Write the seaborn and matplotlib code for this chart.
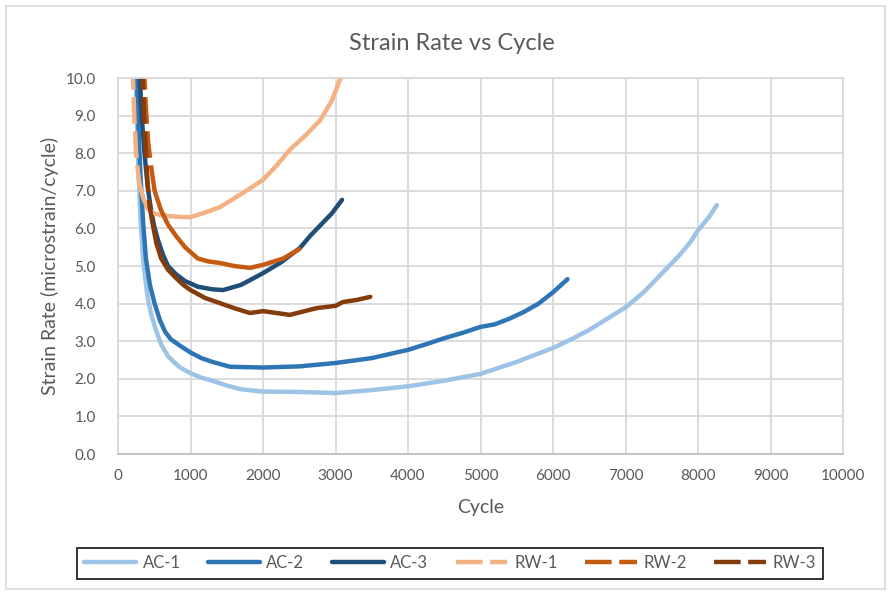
import matplotlib
matplotlib.use("Agg")
import matplotlib.pyplot as plt
from matplotlib.lines import Line2D
from matplotlib.patches import Rectangle
import pandas as pd
import seaborn as sns

# ---- measured strain rate (microstrain/cycle) against load cycle ----
ac1_cycle = [240, 260, 285, 310, 345, 380, 415, 460, 505, 550, 600, 690, 770, 855, 1000,
             1150, 1300, 1500, 1700, 2000, 2500, 3000, 3500, 4000, 4500, 5000, 5500,
             6000, 6250, 6500, 6750, 7000, 7250, 7450, 7600, 7750, 7900, 8000, 8150, 8260]
ac1_rate = [10.4, 9.0, 7.4, 6.3, 5.2, 4.6, 4.1, 3.7, 3.4, 3.15, 2.9, 2.6, 2.45, 2.3, 2.15,
            2.03, 1.95, 1.82, 1.72, 1.66, 1.65, 1.62, 1.70, 1.80, 1.95, 2.13, 2.45,
            2.82, 3.05, 3.30, 3.60, 3.90, 4.30, 4.70, 5.00, 5.30, 5.65, 5.95, 6.30, 6.62]

ac2_cycle = [255, 280, 310, 345, 385, 440, 505, 580, 650, 730, 855, 1000, 1150, 1300, 1545,
             2000, 2500, 3000, 3500, 4000, 4250, 4500, 4750, 5000, 5200, 5400, 5600,
             5800, 6000, 6200]
ac2_rate = [10.4, 8.8, 7.4, 6.2, 5.2, 4.5, 4.0, 3.55, 3.25, 3.05, 2.88, 2.7, 2.55, 2.45, 2.32,
            2.30, 2.33, 2.42, 2.55, 2.77, 2.92, 3.08, 3.22, 3.38, 3.45, 3.60, 3.78,
            4.00, 4.30, 4.65]

ac3_cycle = [290, 330, 370, 410, 455, 500, 550, 620, 690, 800, 925, 1100, 1300, 1450, 1700,
             2000, 2250, 2510, 2650, 2800, 2950, 3090]
ac3_rate = [10.4, 8.9, 7.9, 7.1, 6.5, 6.05, 5.7, 5.3, 5.0, 4.78, 4.6, 4.45, 4.38, 4.36, 4.5,
            4.81, 5.1, 5.48, 5.8, 6.1, 6.4, 6.76]

rw1_cycle = [200, 225, 250, 275, 300, 350, 415, 500, 595, 750, 925, 1000, 1200, 1410, 1720,
             2000, 2200, 2370, 2600, 2790, 2950, 3060, 3100]
rw1_rate = [10.4, 9.0, 8.0, 7.5, 7.15, 6.8, 6.5, 6.4, 6.35, 6.32, 6.3, 6.3, 6.42, 6.57, 6.94,
            7.29, 7.7, 8.09, 8.5, 8.88, 9.4, 9.95, 10.1]

rw2_cycle = [355, 385, 415, 460, 505, 590, 690, 800, 925, 1100, 1250, 1410, 1600, 1820, 2000,
             2280, 2500]
rw2_rate = [10.4, 9.2, 8.3, 7.6, 7.0, 6.5, 6.1, 5.8, 5.5, 5.2, 5.12, 5.08, 5.0, 4.95, 5.03,
            5.2, 5.45]

rw3_cycle = [330, 355, 380, 405, 435, 480, 530, 595, 690, 790, 900, 1000, 1200, 1410, 1600,
             1820, 2000, 2370, 2740, 3000, 3100, 3300, 3480]
rw3_rate = [10.4, 9.2, 8.2, 7.3, 6.6, 6.1, 5.6, 5.2, 4.9, 4.7, 4.5, 4.36, 4.15, 4.01, 3.88,
            3.75, 3.8, 3.7, 3.88, 3.94, 4.04, 4.1, 4.18]

series_names = ["AC-1", "AC-2", "AC-3", "RW-1", "RW-2", "RW-3"]
x_ticks = list(range(0, 10001, 1000))
y_ticks = [0.0, 1.0, 2.0, 3.0, 4.0, 5.0, 6.0, 7.0, 8.0, 9.0, 10.0]

frames = []
for name, cyc, rate in zip(series_names,
                           [ac1_cycle, ac2_cycle, ac3_cycle, rw1_cycle, rw2_cycle, rw3_cycle],
                           [ac1_rate, ac2_rate, ac3_rate, rw1_rate, rw2_rate, rw3_rate]):
    frames.append(pd.DataFrame({"series": name, "cycle": cyc, "rate": rate}))
df = pd.concat(frames, ignore_index=True)

# ---- styling ----
colors = {"AC-1": "#9DC3E6", "AC-2": "#2E75B6", "AC-3": "#1F4E79",
          "RW-1": "#F4B183", "RW-2": "#C55A11", "RW-3": "#843C0C"}
# sparse early readings of the RW series are drawn with a long dash
dash_until = {"RW-1": 300, "RW-2": 505, "RW-3": 435}
long_dash = (0, (6, 1.7))
lw = 3.2
text_gray = "#595959"
grid_gray = "#D9D9D9"

sns.set_theme(style="white")
plt.rcParams["font.family"] = ["Lato", "DejaVu Sans"]

W, H = 891, 595
fig = plt.figure(figsize=(W / 100, H / 100), dpi=100)
fig.patch.set_facecolor("white")
ax = fig.add_axes([118 / W, 1 - 454 / H, (843 - 118) / W, (454 - 78) / H])

for name in series_names:
    sub = df[df["series"] == name]
    if name in dash_until:
        head = sub[sub["cycle"] <= dash_until[name]]
        tail = sub[sub["cycle"] >= dash_until[name]]
        sns.lineplot(data=head, x="cycle", y="rate", ax=ax, color=colors[name], lw=lw,
                     sort=False, estimator=None, linestyle=long_dash, legend=False)
        sns.lineplot(data=tail, x="cycle", y="rate", ax=ax, color=colors[name], lw=lw,
                     sort=False, estimator=None, legend=False, solid_capstyle="round")
    else:
        sns.lineplot(data=sub, x="cycle", y="rate", ax=ax, color=colors[name], lw=lw,
                     sort=False, estimator=None, legend=False, solid_capstyle="round")

ax.set_xlim(0, 10000)
ax.set_ylim(0, 10)
ax.set_xticks(x_ticks)
ax.set_yticks(y_ticks)
ax.set_xticklabels([str(t) for t in x_ticks])
ax.set_yticklabels([f"{t:.1f}" for t in y_ticks])
ax.grid(True, color=grid_gray, lw=1.3)
ax.set_axisbelow(True)
for side in ["top", "left", "right"]:
    ax.spines[side].set_color(grid_gray)
    ax.spines[side].set_linewidth(1.3)
ax.spines["bottom"].set_color("#BFBFBF")
ax.spines["bottom"].set_linewidth(1.3)
ax.tick_params(axis="both", length=0, colors=text_gray, labelsize=11)
ax.tick_params(axis="y", pad=16)
ax.tick_params(axis="x", pad=11)

ax.set_xlabel("Cycle", fontsize=14, color=text_gray, va="center")
ax.xaxis.set_label_coords(0.5, -(508 - 454) / (454 - 78))
ax.set_ylabel("Strain Rate (microstrain/cycle)", fontsize=14, color=text_gray, va="center")
ax.yaxis.set_label_coords((50 - 118) / (843 - 118), 0.5)

fig.text(452 / W, 1 - 43 / H, "Strain Rate vs Cycle", fontsize=17, color=text_gray,
         ha="center", va="center")

# chart border
fig.patches.append(Rectangle((6 / W, 6 / H), 879 / W, 583 / H, transform=fig.transFigure,
                             fill=False, edgecolor=grid_gray, lw=1.2))

handles = []
for name in series_names:
    ls = long_dash if name in dash_until else "-"
    handles.append(Line2D([0], [0], color=colors[name], lw=lw, linestyle=ls))
leg = fig.legend(handles, series_names, loc="center", bbox_to_anchor=(450 / W, 1 - 563 / H),
                 ncol=6, frameon=True, fancybox=False, fontsize=12, handlelength=3.1,
                 handletextpad=0.4, columnspacing=1.65, borderpad=0.45)
leg.get_frame().set_edgecolor("black")
leg.get_frame().set_linewidth(1.4)
for t in leg.get_texts():
    t.set_color(text_gray)

fig.savefig("out.png", dpi=100)
